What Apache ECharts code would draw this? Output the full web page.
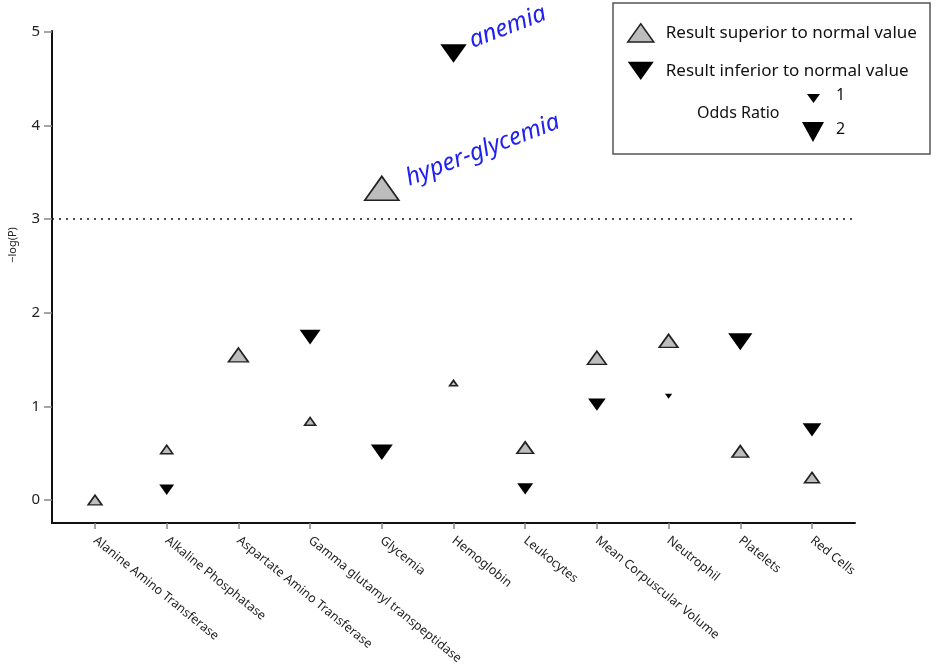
<!DOCTYPE html>
<html>
<head>
<meta charset="utf-8">
<script src="https://cdn.jsdelivr.net/npm/echarts@6/dist/echarts.min.js"></script>
<style>
  html, body { margin: 0; padding: 0; background: #fff; }
  #chart { width: 936px; height: 664px; }
</style>
</head>
<body>
<div id="chart"></div>
<script>
// Lab tests on the x axis
var categories = [
  'Alanine Amino Transferase', 'Alkaline Phosphatase', 'Aspartate Amino Transferase',
  'Gamma glutamyl transpeptidase', 'Glycemia', 'Hemoglobin', 'Leukocytes',
  'Mean Corpuscular Volume', 'Neutrophil', 'Platelets', 'Red Cells'
];

// -log(P) for results above the normal range (null = no point)
var superiorLogP = [0.0, 0.54, 1.55, 0.84, 3.33, 1.25, 0.56, 1.52, 1.70, 0.52, 0.24];
var superiorOR   = [1.25, 1.1, 1.8, 1.0, 3.1, 0.7, 1.5, 1.7, 1.7, 1.5, 1.35];

// -log(P) for results below the normal range
var inferiorLogP = [null, 0.11, null, 1.74, 0.51, 4.77, 0.12, 1.02, 1.11, 1.69, 0.75];
var inferiorOR   = [null, 1.35, null, 1.9, 2.0, 2.4, 1.45, 1.6, 0.65, 2.2, 1.7];

// Named findings shown beside their points
var annotations = { 4: { series: 'sup', text: 'hyper-glycemia' }, 5: { series: 'inf', text: 'anemia' } };

var yTicks = [0, 1, 2, 3, 4, 5];
var threshold = 3;

var UP = 'path://M5,0 L10,7 L0,7 Z';
var DOWN = 'path://M0,0 L10,0 L5,7 Z';
var FONT = "'Noto Sans', 'Open Sans', sans-serif";

function sizeOf(val) { return [11 * val[2], 7.7 * val[2]]; }

function buildData(logP, or, key) {
  var out = [];
  for (var i = 0; i < logP.length; i++) {
    if (logP[i] === null) continue;
    var item = { value: [i, logP[i], or[i]] };
    var a = annotations[i];
    if (a && a.series === key) {
      item.label = {
        show: true, formatter: a.text, position: 'right', distance: 6, rotate: 21,
        color: '#2020f0', fontStyle: 'italic', fontSize: 24, fontFamily: FONT,
        offset: key === 'sup' ? [4, -8] : [2, -12]
      };
    }
    out.push(item);
  }
  return out;
}

var idx = categories.map(function (_, i) { return i; });

var chart = echarts.init(document.getElementById('chart'), null, { renderer: 'canvas' });
chart.setOption({
  backgroundColor: '#fff',
  animation: false,
  grid: { left: 52, right: 81, top: 31, bottom: 141, containLabel: false, outerBoundsMode: 'none' },
  xAxis: {
    type: 'value', min: -0.6, max: 10.6,
    splitLine: { show: false },
    axisLine: { show: true, onZero: false, lineStyle: { color: '#111', width: 2 } },
    axisTick: { show: true, customValues: idx, length: 6, lineStyle: { color: '#888', width: 1.5 } },
    axisLabel: {
      customValues: idx, rotate: -39, margin: 16,
      fontSize: 12.5, color: '#222', fontFamily: FONT,
      formatter: function (v) { return categories[Math.round(v)]; }
    }
  },
  yAxis: {
    type: 'value', min: -0.245, max: 5.01,
    name: '\u2212log(P)', nameLocation: 'middle', nameGap: 34,
    nameTextStyle: { fontSize: 11, color: '#222', fontFamily: FONT, padding: [0, 0, 0, 64] },
    splitLine: { show: false },
    axisLine: { show: true, onZero: false, lineStyle: { color: '#111', width: 2 } },
    axisTick: { show: true, customValues: yTicks, length: 8, lineStyle: { color: '#888', width: 1.5 } },
    axisLabel: { customValues: yTicks, fontSize: 15, color: '#222', margin: 12, fontFamily: FONT }
  },
  legend: {
    orient: 'vertical', left: 622, top: 18, itemWidth: 26, itemHeight: 19, itemGap: 19,
    textStyle: { fontSize: 17, color: '#111', fontFamily: FONT, padding: [0, 0, 0, 7] },
    data: [
      { name: 'Result superior to normal value', icon: UP,
        itemStyle: { color: '#bdbdbd', borderColor: '#222', borderWidth: 1.5 } },
      { name: 'Result inferior to normal value', icon: DOWN,
        itemStyle: { color: '#000', borderWidth: 0 } }
    ]
  },
  graphic: [
    { type: 'rect', shape: { x: 613, y: 3, width: 317, height: 151 },
      style: { fill: 'none', stroke: '#555', lineWidth: 1.5 }, z: 0 },
    { type: 'text', x: 697, y: 105,
      style: { text: 'Odds Ratio', fontSize: 16, fill: '#111', fontFamily: FONT } },
    { type: 'polygon', shape: { points: [[807, 94], [820, 94], [813.5, 103]] }, style: { fill: '#000' } },
    { type: 'text', x: 836, y: 87, style: { text: '1', fontSize: 16, fill: '#111', fontFamily: FONT } },
    { type: 'polygon', shape: { points: [[802, 122], [824, 122], [813, 142]] }, style: { fill: '#000' } },
    { type: 'text', x: 836, y: 121, style: { text: '2', fontSize: 16, fill: '#111', fontFamily: FONT } }
  ],
  series: [
    {
      name: 'Result superior to normal value', type: 'scatter', symbol: UP,
      symbolSize: sizeOf,
      itemStyle: { color: '#bdbdbd', borderColor: '#222', borderWidth: 1.6, opacity: 1 },
      data: buildData(superiorLogP, superiorOR, 'sup'),
      markLine: {
        silent: true, symbol: 'none', label: { show: false },
        lineStyle: { type: [2, 5], color: '#111', width: 1.6 },
        data: [{ yAxis: threshold }]
      },
      z: 3
    },
    {
      name: 'Result inferior to normal value', type: 'scatter', symbol: DOWN,
      symbolSize: sizeOf,
      itemStyle: { color: '#000', opacity: 1 },
      data: buildData(inferiorLogP, inferiorOR, 'inf'),
      z: 4
    }
  ]
});
</script>
</body>
</html>
